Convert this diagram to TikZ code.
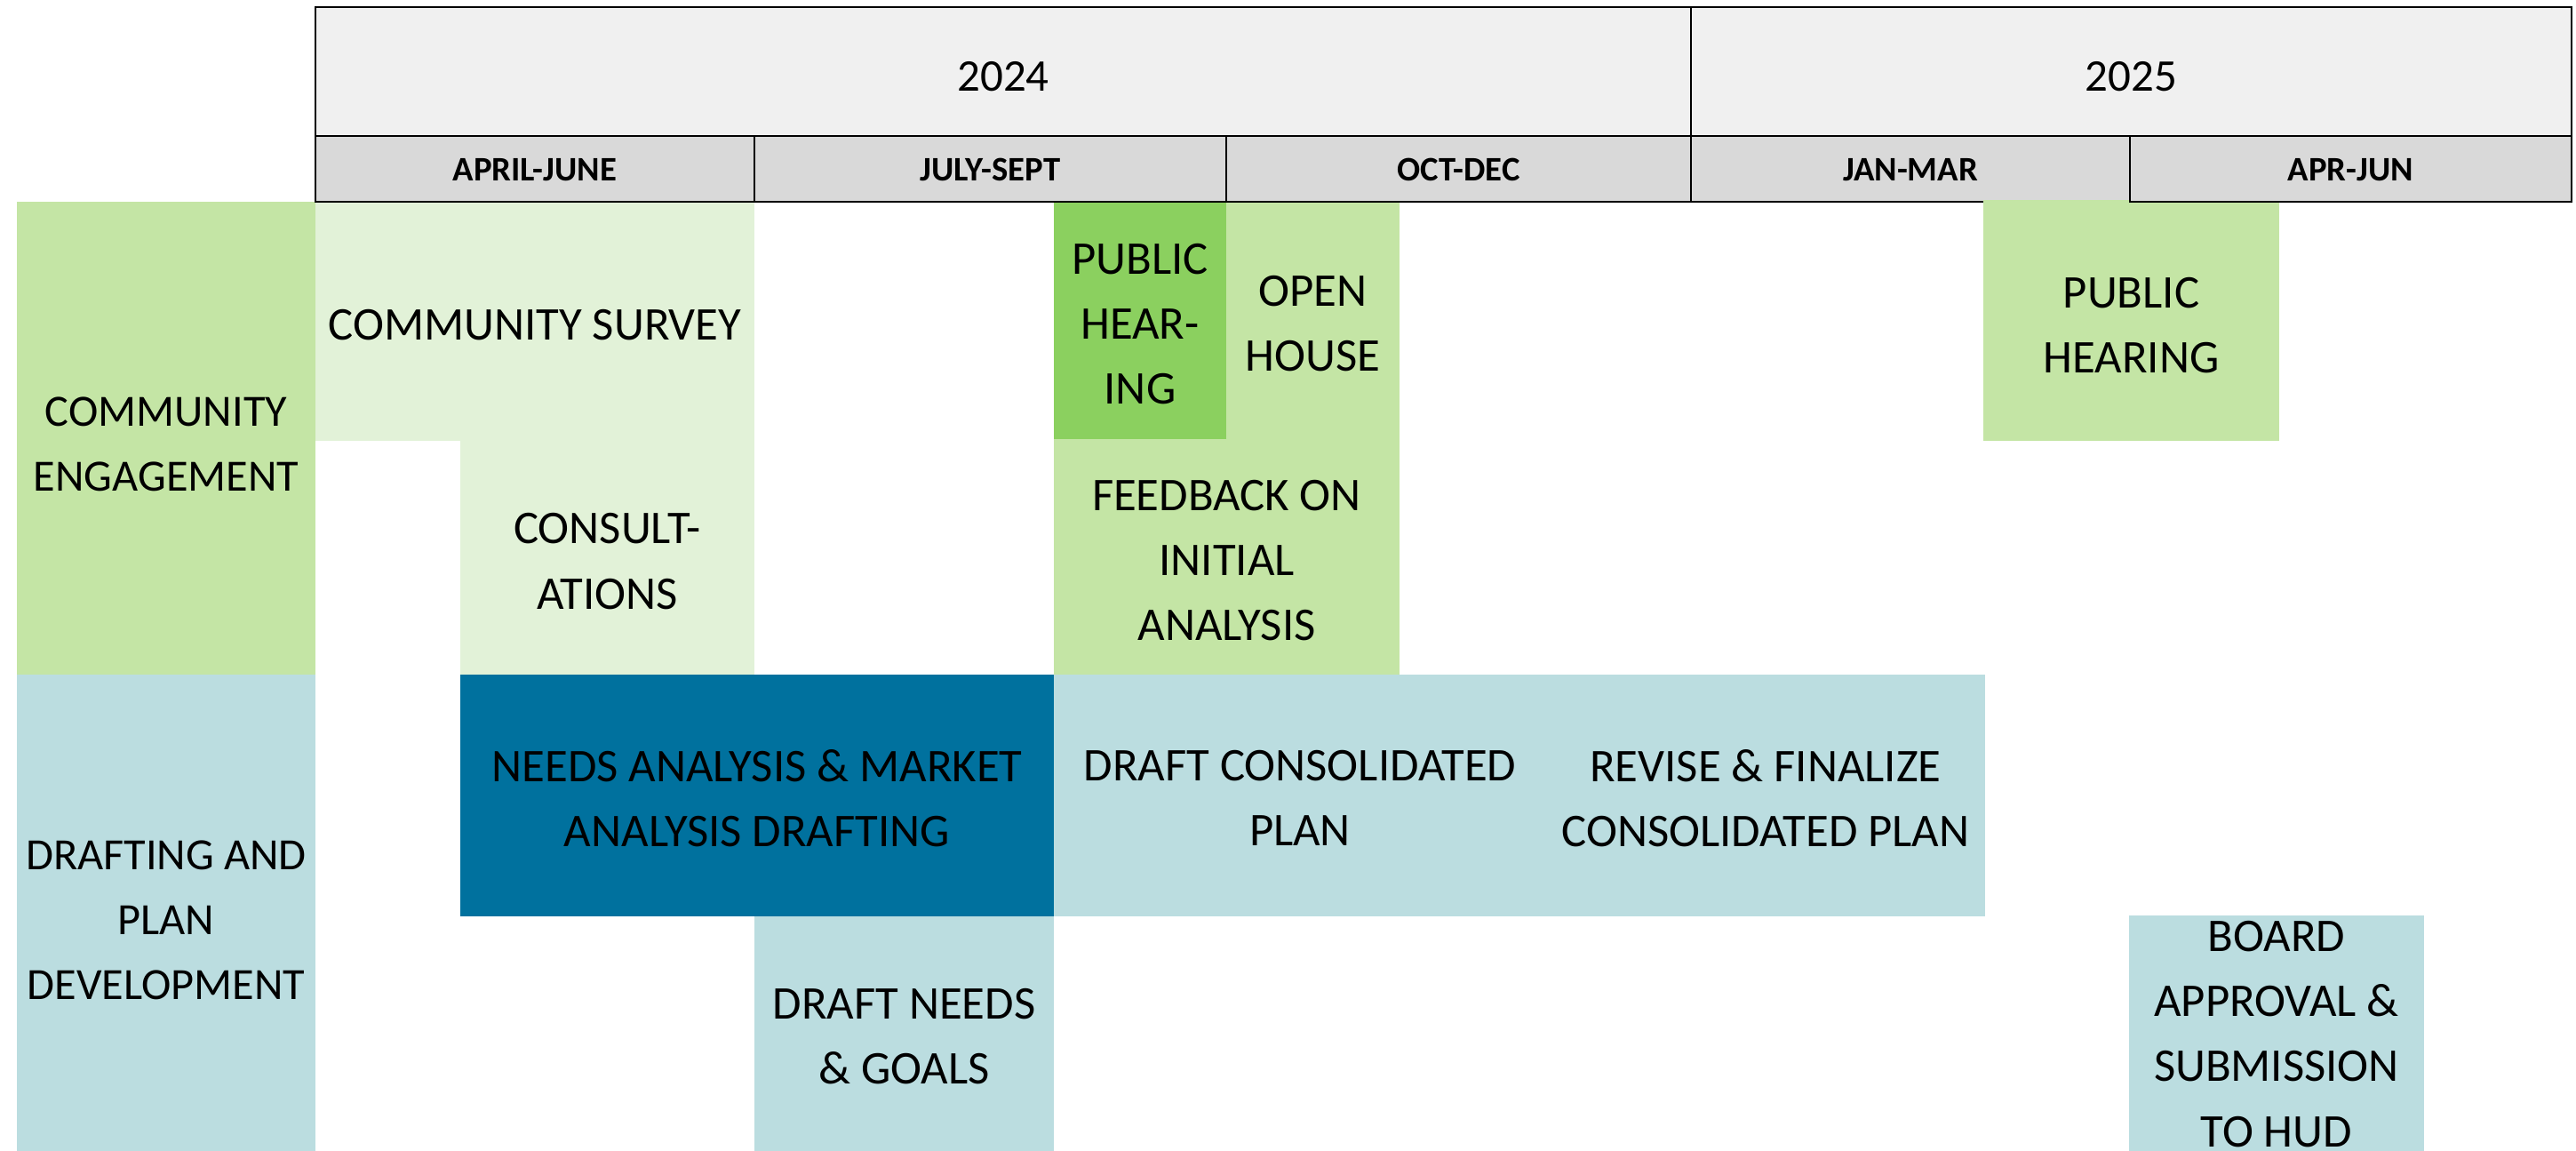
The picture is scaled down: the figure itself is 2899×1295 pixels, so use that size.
\documentclass[tikz,border=0pt]{standalone}
\usepackage{fontspec}
\setmainfont{Carlito}
\definecolor{hdrYear}{HTML}{F0F0F0}
\definecolor{hdrQ}{HTML}{D9D9D9}
\definecolor{ceGreen}{HTML}{C4E5A5}
\definecolor{ceLight}{HTML}{E2F2D8}
\definecolor{phDark}{HTML}{8BD05F}
\definecolor{dpLight}{HTML}{BBDDE0}
\definecolor{naDark}{HTML}{00719E}
% #1 text shift down (px), #2 name, #3 style, #4..#7 box corners, #8 text
\newcommand\boxnode[8][4]{%
  \pgfmathsetmacro\myw{(#6-#4)*0.01}%
  \pgfmathsetmacro\myh{(#7-#5)*0.01}%
  \node[#3, minimum width=\myw cm, minimum height=\myh cm, anchor=north west] (#2) at (#4,#5) {};%
  \node[#3, fill=none, draw=none] (#2-text) at ([yshift=-#1*0.01cm]#2.center) {#8};%
}
\tikzset{
  base/.style={inner sep=0pt, outer sep=0pt, align=center, text=black},
  yearcell/.style={base, draw=black, line width=0.7pt, fill=hdrYear, font=\fontsize{14.5}{17}\selectfont},
  qcell/.style={base, draw=black, line width=0.7pt, fill=hdrQ, font=\bfseries\fontsize{11}{13}\selectfont},
  task/.style={base, font=\fontsize{15}{20.8}\selectfont},
  rowlabel/.style={base, font=\fontsize{14.3}{20.8}\selectfont},
  celabel/.style={task, fill=ceGreen},
  cetask/.style={task, fill=ceLight},
  phtask/.style={task, fill=phDark},
  dptask/.style={task, fill=dpLight},
  natask/.style={task, fill=naDark},
}
\begin{document}
\begin{tikzpicture}[x=0.01cm, y=-0.01cm]
\useasboundingbox (0,0) rectangle (2899,1295);
% row labels
\boxnode[7]{lce}{rowlabel, fill=ceGreen}{19}{227}{355}{759}{COMMUNITY\\ENGAGEMENT}
\boxnode[8]{ldp}{rowlabel, fill=dpLight}{19}{759}{355}{1295}{DRAFTING AND\\PLAN\\DEVELOPMENT}
% community engagement tasks
\boxnode{survey}{cetask}{355}{227}{849}{496}{COMMUNITY SURVEY}
\boxnode{consult}{cetask}{518}{496}{849}{759}{CONSULT-\\ATIONS}
\boxnode{ph1}{phtask}{1186}{227}{1380}{494}{PUBLIC\\HEAR-\\ING}
\boxnode{open}{celabel}{1380}{227}{1575}{494}{OPEN\\HOUSE}
\boxnode{feedback}{celabel}{1186}{494}{1575}{759}{FEEDBACK ON\\INITIAL\\ANALYSIS}
% drafting tasks
\boxnode[3]{needs}{natask}{518}{759}{1186}{1031}{NEEDS ANALYSIS \& MARKET\\ANALYSIS DRAFTING}
\boxnode[3]{draftcp}{dptask}{1186}{759}{1740}{1031}{DRAFT CONSOLIDATED\\PLAN}
\boxnode[3]{revise}{dptask}{1740}{759}{2234}{1031}{REVISE \& FINALIZE\\CONSOLIDATED PLAN}
\boxnode[3]{goals}{dptask}{849}{1031}{1186}{1295}{DRAFT NEEDS\\\& GOALS}
\boxnode[1]{board}{dptask}{2396}{1030}{2728}{1295}{BOARD\\APPROVAL \&\\SUBMISSION\\TO HUD}
% header
\boxnode[6]{y2024}{yearcell}{355}{8}{1903}{153}{2024}
\boxnode[6]{y2025}{yearcell}{1903}{8}{2894}{153}{2025}
\boxnode[1]{q1}{qcell}{355}{153}{849}{227}{APRIL-JUNE}
\boxnode[1]{q2}{qcell}{849}{153}{1380}{227}{JULY-SEPT}
\boxnode[1]{q3}{qcell}{1380}{153}{1903}{227}{OCT-DEC}
\boxnode[1]{q4}{qcell}{1903}{153}{2397}{227}{JAN-MAR}
% public hearing 2025 (covers part of header border)
\boxnode[5]{ph2}{celabel}{2232}{225.5}{2565}{496}{PUBLIC\\HEARING}
\boxnode[1]{q5}{qcell}{2397}{153}{2894}{227}{APR-JUN}
\end{tikzpicture}
\end{document}
